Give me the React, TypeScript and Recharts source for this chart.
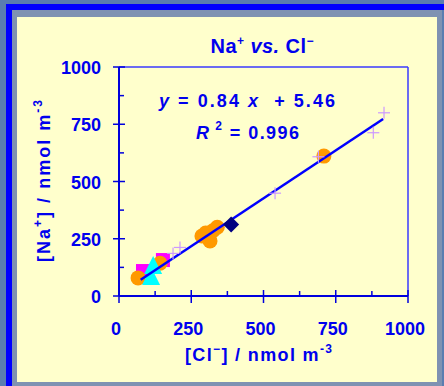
import React from "react";
import { Customized, ReferenceLine, Scatter, ScatterChart, XAxis, YAxis } from "recharts";

const INK = "#0000ee";
const AXIS = "#0000dd";
const FRAME = "#3a3aff";
const PANEL = "#ffffcc";
const SLATE = "#5a7db0";
const FONT = "'Liberation Sans', Arial, sans-serif";

const MAJOR_TICKS = [0, 250, 500, 750, 1000];
const MINOR_TICKS = [125, 375, 625, 875];
const ALL_TICKS = [0, 125, 250, 375, 500, 625, 750, 875, 1000];

// [Cl-] (x) vs [Na+] (y), nmol m-3
const orangeCircles = [
  { x: 66, y: 79 },
  { x: 142, y: 143 },
  { x: 287, y: 262 },
  { x: 300, y: 275 },
  { x: 315, y: 240 },
  { x: 325, y: 285 },
  { x: 340, y: 300 },
  { x: 709, y: 611 },
];
const magentaSquares = [
  { x: 83, y: 109 },
  { x: 152, y: 157 },
];
const cyanTriangles = [
  { x: 111, y: 83 },
  { x: 118, y: 131 },
];
const navyDiamonds = [{ x: 388, y: 312 }];
const crosses = [
  { x: 187, y: 186 },
  { x: 211, y: 212 },
  { x: 540, y: 449 },
  { x: 690, y: 608 },
  { x: 880, y: 713 },
  { x: 917, y: 800 },
];
const fitLine = [
  { x: 75, y: 71 },
  { x: 914, y: 773 },
];

const Circle = ({ cx, cy }: any) => <circle cx={cx} cy={cy} r={7.5} fill="#ff9900" />;
const Square = ({ cx, cy }: any) => <rect x={cx - 7} y={cy - 7} width={14} height={14} fill="#ff00ff" />;
const Triangle = ({ cx, cy }: any) => (
  <polygon points={`${cx},${cy - 10} ${cx - 9},${cy + 8} ${cx + 9},${cy + 8}`} fill="#00ffff" />
);
const Diamond = ({ cx, cy }: any) => (
  <polygon points={`${cx},${cy - 8} ${cx + 8},${cy} ${cx},${cy + 8} ${cx - 8},${cy}`} fill="#000080" />
);
const Cross = ({ cx, cy }: any) => (
  <g stroke="#cc99ff" strokeWidth={1.2}>
    <line x1={cx - 6} x2={cx + 6} y1={cy} y2={cy} />
    <line x1={cx} x2={cx} y1={cy - 6} y2={cy + 6} />
  </g>
);
const NoDot = () => <g />;

const labelStyle = { fontFamily: FONT, fontWeight: 700, fill: INK } as const;

function XTick({ x, y, payload }: any) {
  if (!MAJOR_TICKS.includes(payload.value)) {
    return <line x1={x} x2={x} y1={y - 5} y2={y} stroke={AXIS} strokeWidth={1.5} />;
  }
  return (
    <g>
      <line x1={x} x2={x} y1={y - 6} y2={y + 7} stroke={AXIS} strokeWidth={1.5} />
      <text x={x - 3} y={y + 39} textAnchor="middle" fontSize={18} {...labelStyle}>
        {payload.value}
      </text>
    </g>
  );
}

function YTick({ x, y, payload }: any) {
  if (MINOR_TICKS.includes(payload.value)) {
    return <line x1={x} x2={x + 5} y1={y} y2={y} stroke={AXIS} strokeWidth={1.5} />;
  }
  return (
    <g>
      <line x1={x - 6} x2={x + 6} y1={y} y2={y} stroke={AXIS} strokeWidth={1.5} />
      <text x={x - 18} y={y + 7} textAnchor="end" fontSize={18} {...labelStyle}>
        {payload.value}
      </text>
    </g>
  );
}

function Texts() {
  return (
    <g {...labelStyle}>
      <text x={262} y={53} textAnchor="middle" fontSize={20} textLength={103}>
        Na<tspan fontSize={12} dy={-8}>+</tspan>
        <tspan dy={8} fontStyle="italic"> vs.</tspan> Cl
        <tspan fontSize={12} dy={-8}>−</tspan>
      </text>
      <text x={159} y={107} fontSize={18} textLength={176} lengthAdjust="spacing" style={{ whiteSpace: "pre" }}>
        <tspan fontStyle="italic">y</tspan> = 0.84 <tspan fontStyle="italic">x</tspan>  + 5.46
      </text>
      <text x={196} y={139} fontSize={18} textLength={103} lengthAdjust="spacing" style={{ whiteSpace: "pre" }}>
        <tspan fontStyle="italic">R</tspan>
        <tspan fontSize={12} dy={-9}> 2</tspan>
        <tspan dy={9}> = 0.996</tspan>
      </text>
      <text x={185} y={361} fontSize={18} textLength={147} lengthAdjust="spacing">
        [Cl<tspan fontSize={12} dy={-8}>−</tspan>
        <tspan dy={8}>] / nmol m</tspan>
        <tspan fontSize={12} dy={-8}>-3</tspan>
      </text>
      <text x={50} y={181} fontSize={18} textAnchor="middle" textLength={162} lengthAdjust="spacing" transform="rotate(-90 50 181)">
        [Na<tspan fontSize={12} dy={-8}>+</tspan>
        <tspan dy={8}>] / nmol m</tspan>
        <tspan fontSize={12} dy={-8}>-3</tspan>
      </text>
    </g>
  );
}

export default function App() {
  return (
    <div style={{ position: "fixed", left: 0, top: 0, width: 444, height: 386, background: SLATE, overflow: "hidden" }}>
      <div style={{ position: "absolute", left: 6, top: 4, width: 460, height: 400, borderTop: "6px solid #0000ff", borderLeft: "6px solid #0000ff" }} />
      <div style={{ position: "absolute", left: 12, top: 10, width: 430, height: 378, background: "#7f92b2" }} />
      <div style={{ position: "absolute", left: 17, top: 17, width: 420, height: 365, background: PANEL }} />
      <div style={{ position: "absolute", left: 0, top: 0 }}>
        <ScatterChart width={444} height={386} margin={{ top: 67, right: 36, bottom: 89, left: 118 }}>
          <XAxis type="number" dataKey="x" domain={[0, 1000]} ticks={ALL_TICKS} interval={0} height={1}
            axisLine={{ stroke: AXIS, strokeWidth: 2 }} tickLine={false} tickSize={0} tickMargin={0} tick={<XTick />} allowDataOverflow />
          <YAxis type="number" dataKey="y" domain={[0, 1000]} ticks={ALL_TICKS} interval={0} width={1}
            axisLine={{ stroke: AXIS, strokeWidth: 2 }} tickLine={false} tickSize={0} tickMargin={0} tick={<YTick />} allowDataOverflow />
          <ReferenceLine x={1000} stroke={FRAME} strokeWidth={1.5} />
          <ReferenceLine y={1000} stroke={FRAME} strokeWidth={1.5} />
          <Scatter data={magentaSquares} shape={<Square />} isAnimationActive={false} />
          <Scatter data={orangeCircles} shape={<Circle />} isAnimationActive={false} />
          <Scatter data={cyanTriangles} shape={<Triangle />} isAnimationActive={false} />
          <Scatter data={fitLine} shape={<NoDot />} line={{ stroke: "#0000ff", strokeWidth: 2.5 }} isAnimationActive={false} />
          <Scatter data={navyDiamonds} shape={<Diamond />} isAnimationActive={false} />
          <Scatter data={crosses} shape={<Cross />} isAnimationActive={false} />
          <Customized component={Texts} />
        </ScatterChart>
      </div>
    </div>
  );
}
